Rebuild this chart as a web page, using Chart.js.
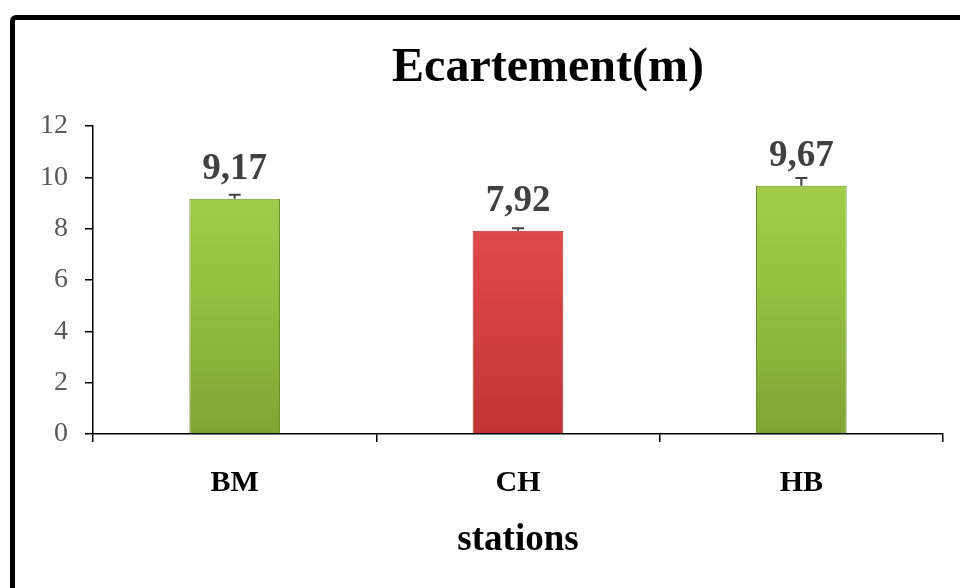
<!DOCTYPE html>
<html>
<head>
<meta charset="utf-8">
<script src="https://cdn.jsdelivr.net/npm/chart.js@4/dist/chart.umd.min.js"></script>
<style>
  html, body { margin: 0; padding: 0; background: #fff; }
  #wrap { position: relative; width: 960px; height: 588px; overflow: hidden; }
  #cadre {
    position: absolute; left: 10px; top: 15px; width: 1000px; height: 700px;
    border-left: 5px solid #000; border-top: 5px solid #000;
    border-top-left-radius: 6px; pointer-events: none;
  }
</style>
</head>
<body>
<div id="wrap">
  <canvas id="graf" width="960" height="588"></canvas>
  <div id="cadre"></div>
</div>
<script>
// donnees
var stations = ['BM', 'CH', 'HB'];
var ecartement = [9.17, 7.92, 9.67];
var erreurs = [0.15, 0.1, 0.3];
var ticksY = [0, 2, 4, 6, 8, 10, 12];

var police = "'Liberation Serif', 'Times New Roman', serif";

function degrade(ctx, area, haut, milieu, bas) {
  var g = ctx.createLinearGradient(0, area.top, 0, area.bottom);
  g.addColorStop(0, haut);
  g.addColorStop(0.5, milieu);
  g.addColorStop(1, bas);
  return g;
}

function couleurBarre(context) {
  var chart = context.chart;
  if (!chart.chartArea) return '#9bc846';
  if (context.dataIndex == 1) {
    return degrade(chart.ctx, chart.chartArea, '#e85a5a', '#d94444', '#c03434');
  }
  return degrade(chart.ctx, chart.chartArea, '#a6d350', '#95c340', '#7fa436');
}

// titre, barres d'erreur et etiquettes
var extras = {
  id: 'extras',
  afterDatasetsDraw: function(chart) {
    var ctx = chart.ctx;
    var y = chart.scales.y;
    var meta = chart.getDatasetMeta(0);
    ctx.save();
    meta.data.forEach(function(bar, i) {
      var haut = y.getPixelForValue(ecartement[i] + erreurs[i]);
      ctx.strokeStyle = '#404040';
      ctx.lineWidth = 2;
      ctx.beginPath();
      ctx.moveTo(bar.x, bar.y);
      ctx.lineTo(bar.x, haut);
      ctx.moveTo(bar.x - 6, haut);
      ctx.lineTo(bar.x + 6, haut);
      ctx.stroke();

      ctx.fillStyle = '#404040';
      ctx.font = 'bold 37px ' + police;
      ctx.textAlign = 'center';
      ctx.textBaseline = 'alphabetic';
      ctx.fillText(ecartement[i].toFixed(2).replace('.', ','), bar.x, bar.y - 20);
    });
    ctx.fillStyle = '#000';
    ctx.font = 'bold 48px ' + police;
    ctx.textAlign = 'center';
    ctx.fillText('Ecartement(m)', 548, 81);
    ctx.restore();
  }
};

var ctx = document.getElementById('graf').getContext('2d');
var graf = new Chart(ctx, {
  type: 'bar',
  data: {
    labels: stations,
    datasets: [{
      data: ecartement,
      backgroundColor: couleurBarre,
      borderColor: function(c) { return c.dataIndex == 1 ? '#a52a2a' : '#6f8f2c'; },
      borderWidth: 1,
      barPercentage: 1,
      categoryPercentage: 0.32
    }]
  },
  options: {
    responsive: false,
    animation: false,
    layout: { padding: { top: 126, left: 40, right: 17, bottom: 25 } },
    plugins: {
      legend: { display: false },
      tooltip: { enabled: false },
      title: { display: false }
    },
    scales: {
      x: {
        afterFit: function(axis) { axis.height = 129; },
        grid: { offset: true, drawOnChartArea: false, tickLength: 8, color: '#000', lineWidth: 1.5 },
        border: { color: '#000', width: 1.5 },
        ticks: { color: '#000', font: { family: police, size: 30, weight: 'bold' }, padding: 23 },
        title: {
          display: true, text: 'stations', color: '#000',
          font: { family: police, size: 37, weight: 'bold' }, padding: { top: 18, bottom: 0 }
        }
      },
      y: {
        min: 0,
        max: 12,
        afterBuildTicks: function(axis) {
          axis.ticks = ticksY.map(function(v) { return { value: v }; });
        },
        afterFit: function(axis) { axis.width = 53; },
        grid: { drawOnChartArea: false, tickLength: 8, color: '#000', lineWidth: 1.5 },
        border: { color: '#000', width: 1.5 },
        ticks: { color: '#595959', font: { family: police, size: 28 }, padding: 17 }
      }
    }
  },
  plugins: [extras]
});
</script>
</body>
</html>
